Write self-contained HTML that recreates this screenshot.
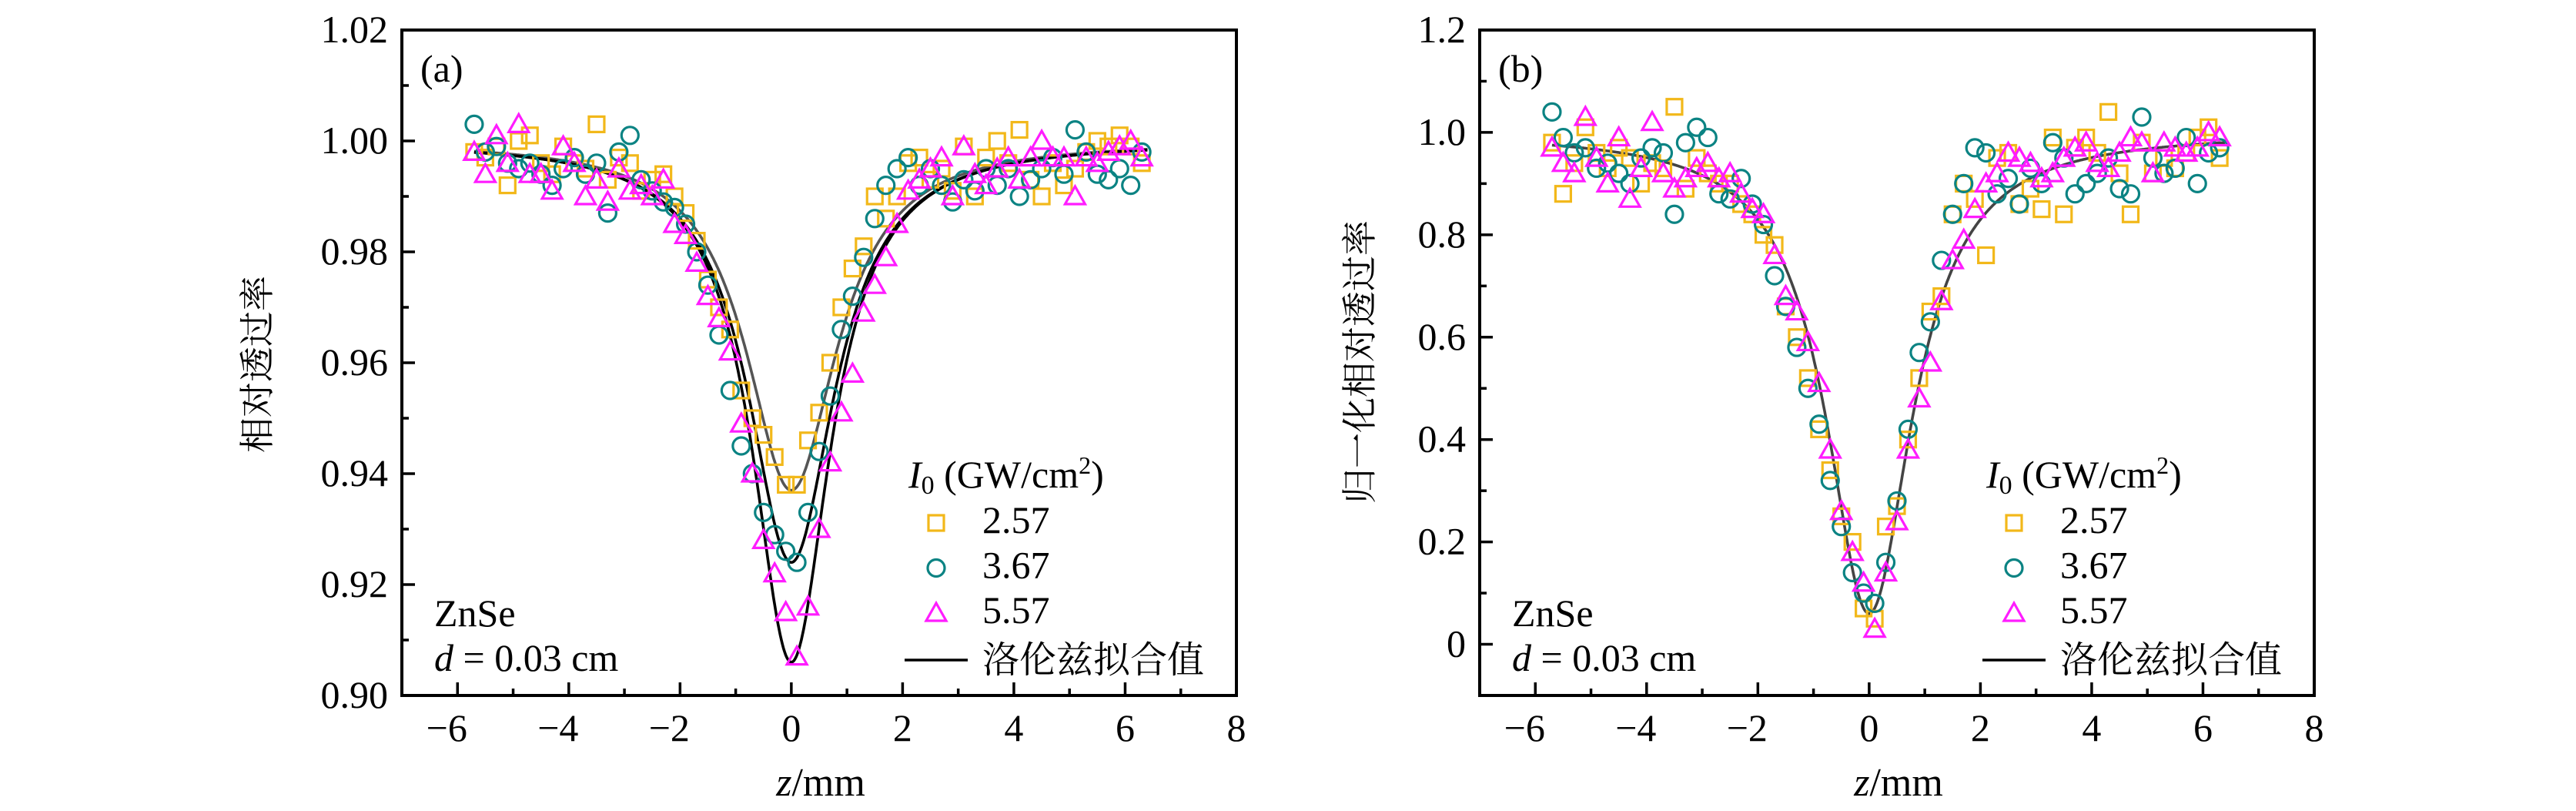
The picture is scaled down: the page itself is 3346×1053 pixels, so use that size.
<!DOCTYPE html>
<html><head><meta charset="utf-8">
<style>
html,body{margin:0;padding:0;background:#fff;}
svg{display:block;}
svg text{font-family:"Liberation Serif","DejaVu Serif","Noto Serif CJK SC",serif !important;fill:#000;}
svg text.cjk{font-family:"Liberation Serif","Noto Serif CJK SC","Noto Sans CJK SC",serif !important;}
</style></head>
<body>
<svg id="chart" width="3346" height="1053" viewBox="0 0 3346 1053" xmlns="http://www.w3.org/2000/svg"></svg>
<script>
const zValues = [-5.7,-5.5,-5.3,-5.1,-4.9,-4.7,-4.5,-4.3,-4.1,-3.9,-3.7,-3.5,-3.3,-3.1,-2.9,-2.7,-2.5,-2.3,-2.1,-1.9,-1.7,-1.5,-1.3,-1.1,-0.9,-0.7,-0.5,-0.3,-0.1,0.1,0.3,0.5,0.7,0.9,1.1,1.3,1.5,1.7,1.9,2.1,2.3,2.5,2.7,2.9,3.1,3.3,3.5,3.7,3.9,4.1,4.3,4.5,4.7,4.9,5.1,5.3,5.5,5.7,5.9,6.1,6.3];
const seriesNames = ["2.57","3.67","5.57"];
const aYellow = [0.998,0.997,0.999,0.992,1.000,1.001,0.996,0.994,0.999,0.996,0.995,1.003,0.993,0.997,0.996,0.991,0.993,0.994,0.990,0.987,0.982,0.975,0.970,0.966,0.955,0.950,0.947,0.943,0.938,0.938,0.946,0.951,0.960,0.970,0.977,0.981,0.990,0.986,0.990,0.996,0.997,0.993,0.995,0.991,0.999,0.990,0.997,1.000,0.996,1.002,0.993,0.990,0.996,0.992,0.995,0.998,1.000,0.999,1.001,0.999,0.996];
const aTeal = [1.003,0.998,0.999,0.996,0.995,0.996,0.994,0.992,0.995,0.997,0.994,0.996,0.987,0.998,1.001,0.993,0.991,0.989,0.988,0.985,0.980,0.974,0.965,0.955,0.945,0.940,0.933,0.929,0.926,0.924,0.933,0.944,0.954,0.966,0.972,0.979,0.986,0.992,0.995,0.997,0.992,0.995,0.992,0.989,0.993,0.991,0.995,0.992,0.995,0.990,0.993,0.995,0.997,0.994,1.002,0.998,0.994,0.993,0.995,0.992,0.998];
const aMagenta = [0.998,0.994,1.001,0.996,1.003,0.994,0.994,0.991,0.999,0.996,0.990,0.993,0.989,0.995,0.991,0.992,0.990,0.993,0.985,0.983,0.978,0.972,0.968,0.962,0.949,0.940,0.928,0.922,0.915,0.907,0.916,0.930,0.942,0.951,0.958,0.969,0.974,0.979,0.985,0.991,0.993,0.995,0.997,0.990,0.999,0.994,0.992,0.995,0.997,0.993,0.997,1.000,0.997,0.997,0.990,0.997,0.996,0.998,0.999,1.000,0.997];
const bYellow = [0.98,0.88,0.94,1.01,0.96,0.93,0.97,0.95,0.90,0.94,0.93,1.05,0.89,0.95,0.92,0.90,0.90,0.86,0.84,0.80,0.78,0.66,0.60,0.52,0.42,0.34,0.25,0.20,0.07,0.05,0.23,0.27,0.40,0.52,0.65,0.68,0.84,0.90,0.87,0.76,0.95,0.96,0.86,0.89,0.85,0.99,0.84,0.97,0.99,0.96,1.04,0.92,0.84,0.98,0.92,0.95,0.93,0.96,0.99,1.01,0.95];
const bTeal = [1.04,0.99,0.96,0.97,0.93,0.94,0.92,0.90,0.95,0.97,0.96,0.84,0.98,1.01,0.99,0.88,0.87,0.91,0.86,0.82,0.72,0.66,0.58,0.50,0.43,0.32,0.23,0.14,0.10,0.08,0.16,0.28,0.42,0.57,0.63,0.75,0.84,0.90,0.97,0.96,0.88,0.91,0.86,0.93,0.90,0.98,0.95,0.88,0.90,0.92,0.95,0.89,0.88,1.03,0.95,0.92,0.93,0.99,0.90,0.96,0.97];
const bMagenta = [0.97,0.94,0.92,1.03,0.95,0.90,0.99,0.87,0.93,1.02,0.92,0.89,0.91,0.93,0.94,0.91,0.92,0.88,0.85,0.84,0.76,0.68,0.65,0.59,0.51,0.38,0.26,0.18,0.12,0.03,0.14,0.24,0.38,0.48,0.55,0.67,0.75,0.79,0.85,0.90,0.92,0.96,0.95,0.94,0.91,0.92,0.95,0.97,0.98,0.94,0.93,0.96,0.99,0.98,0.92,0.98,0.97,0.96,0.97,1.00,0.99];
// Lorentzian fit parameters: depth and half-width (mm)
const aFitDepth = [0.063,0.076,0.094];
const aFitWidth = [1.0,0.95,0.85];
const bFitDepth = [0.94];
const bFitWidth = [0.94];
const xTicks = [-6,-4,-2,0,2,4,6,8];
const xTickLabels = ["\u22126","\u22124","\u22122","0","2","4","6","8"];
const aYTicks = [0.90,0.92,0.94,0.96,0.98,1.00,1.02];
const aYTickLabels = ["0.90","0.92","0.94","0.96","0.98","1.00","1.02"];
const bYTicks = [0,0.2,0.4,0.6,0.8,1.0,1.2];
const bYTickLabels = ["0","0.2","0.4","0.6","0.8","1.0","1.2"];

const NS = "http://www.w3.org/2000/svg";
const svg = document.getElementById('chart');
const SERIF = "Liberation Serif, DejaVu Serif, serif";
function mk(tag, attrs, parent){
  const e = document.createElementNS(NS, tag);
  for (const k in attrs) e.setAttribute(k, attrs[k]);
  if (tag==='text' && !attrs['font-family']) e.setAttribute('font-family', SERIF);
  (parent||svg).appendChild(e);
  return e;
}
const colors = ["#f2b81a","#0b8383","#ff1cff"];

function marker(g, kind, cx, cy, color){
  let e;
  if (kind===0){ e = mk('rect',{x:cx-10,y:cy-10,width:20,height:20,fill:'none',stroke:color,'stroke-width':3.2},g); }
  else if (kind===1){ e = mk('circle',{cx:cx,cy:cy,r:11,fill:'none',stroke:color,'stroke-width':3.2},g); }
  else { e = mk('polygon',{points:`${cx},${cy-13} ${cx-13},${cy+10} ${cx+13},${cy+10}`,fill:'none',stroke:color,'stroke-width':3.2},g); }
  return e;
}

function panel(opt){
  const L=opt.left, R=opt.left+1084, T=39, B=903;
  const xs = v => L + (v+7)/15*(R-L);
  const ys = v => B - (v-opt.ymin)/(opt.ymax-opt.ymin)*(B-T);
  const g = mk('g',{});
  
  
  opt.fitDepth.forEach((d,i)=>{
    let pts=[];
    for(let z=-5.7; z<=6.41; z+=0.02){ pts.push(xs(z).toFixed(1)+','+ys(opt.base - d/(1+(z/opt.fitWidth[i])**2)).toFixed(1)); }
    const pl = mk('polyline',{points:pts.join(' '),fill:'none',stroke:opt.fitColors[i],'stroke-width':3.6},g);
    
    
  });
  opt.series.forEach((arr,si)=>{
    const sg = mk('g',{},g);
    
    
    arr.forEach((v,i)=>{
      const m = marker(sg, si, xs(zValues[i]), ys(v), colors[si]);
      
      
    });
  });
  const fr = mk('rect',{x:L,y:T,width:R-L,height:B-T,fill:'none',stroke:'#000','stroke-width':4},g);
  
  
  for(let v=-7; v<=8; v++){
    const major = xTicks.includes(v);
    mk('line',{x1:xs(v),x2:xs(v),y1:B,y2:B-(major?17:9),stroke:'#000','stroke-width':3.5},g);
  }
  xTicks.forEach((v,i)=>{
    const t = mk('text',{x:xs(v)-(v<0?14:0),y:962,'text-anchor':'middle','font-size':50},g);
    t.textContent = xTickLabels[i];
    
    
  });
  for(let k=0;k<opt.ticks.length-1;k++){
    const a=opt.ticks[k], b=opt.ticks[k+1];
    mk('line',{x1:L,x2:L+17,y1:ys(a),y2:ys(a),stroke:'#000','stroke-width':3.5},g);
    mk('line',{x1:L,x2:L+9,y1:ys((a+b)/2),y2:ys((a+b)/2),stroke:'#000','stroke-width':3.5},g);
  }
  opt.ticks.forEach((v,i)=>{
    const t = mk('text',{x:L-18,y:ys(v)+16,'text-anchor':'end','font-size':50},g);
    t.textContent = opt.tickLabels[i];
    
    
  });
  const pl = mk('text',{x:L+24,y:T+67,'font-size':50},g);
  pl.textContent = opt.label;
  
  
  const s1 = mk('text',{x:L+42,y:813,'font-size':50},g);
  s1.textContent='ZnSe';
  
  
  const s2 = mk('text',{x:L+42,y:871,'font-size':50},g);
  s2.innerHTML='<tspan font-style="italic">d</tspan> = 0.03 cm';
  
  
  const xt = mk('text',{x:L+544,y:1033,'text-anchor':'middle','font-size':52},g);
  xt.innerHTML='<tspan font-style="italic">z</tspan>/mm';
  
  
  const yt = mk('text',{x:0,y:0,'text-anchor':'middle','font-size':46,class:'cjk',transform:`translate(${opt.ytx},${opt.yty}) rotate(-90)`},g);
  yt.textContent = opt.ytitle;
  
  
  const lg = mk('g',{},g);
  
  
  const lx = L+658;
  const lt = mk('text',{x:lx,y:633,'font-size':50},lg);
  lt.innerHTML='<tspan font-style="italic">I</tspan><tspan font-size="34" dy="8">0</tspan><tspan dy="-8"> (GW/cm</tspan><tspan font-size="32" dy="-18">2</tspan><tspan dy="18">)</tspan>';
  
  
  seriesNames.forEach((n,i)=>{
    const m = marker(lg, i, lx+36, 679+58.5*i, colors[i]);
    
    
    const t = mk('text',{x:lx+96,y:692+58.5*i,'font-size':50},lg);
    t.textContent = n;
    
    
  });
  mk('line',{x1:lx-5,x2:lx+77,y1:857,y2:857,stroke:'#000','stroke-width':3.5},lg);
  const ft = mk('text',{x:lx+96,y:873,'font-size':48,class:'cjk'},lg);
  ft.textContent='洛伦兹拟合值';
  
  
}

panel({name:'panel-a',left:522,ymin:0.90,ymax:1.02,ticks:aYTicks,tickLabels:aYTickLabels,base:1.0,
  fitDepth:aFitDepth,fitWidth:aFitWidth,fitColors:['#555','#000','#000'],
  series:[aYellow,aTeal,aMagenta],label:'(a)',ytitle:'相对透过率',ytx:350,yty:473});
panel({name:'panel-b',left:1922,ymin:-0.1,ymax:1.2,ticks:bYTicks,tickLabels:bYTickLabels,base:1.0,
  fitDepth:bFitDepth,fitWidth:bFitWidth,fitColors:['#444'],
  series:[bYellow,bTeal,bMagenta],label:'(b)',ytitle:'归一化相对透过率',ytx:1782,yty:470});
</script>
</body></html>
